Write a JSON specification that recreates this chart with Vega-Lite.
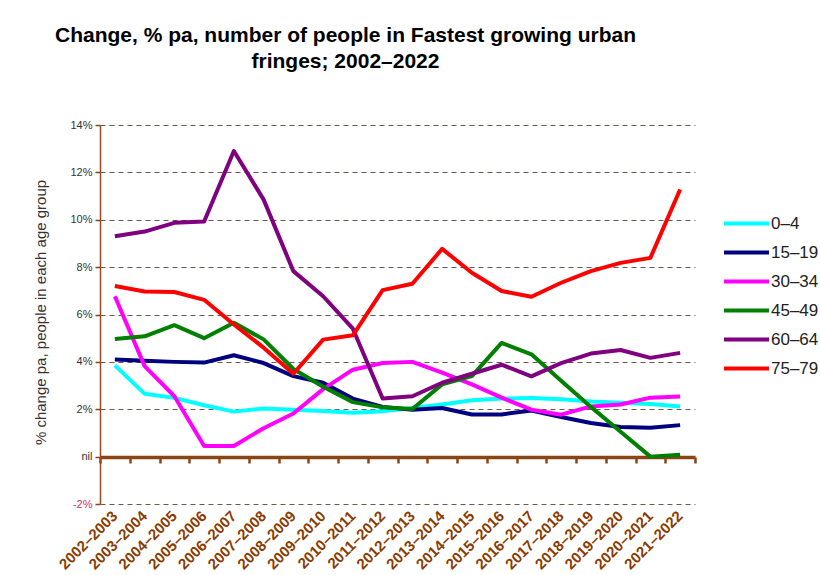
{
  "$schema": "https://vega.github.io/schema/vega-lite/v6.json",
  "width": 595,
  "height": 379,
  "autosize": {"type": "none"},
  "padding": {"left": 100, "top": 125, "right": 125, "bottom": 71},
  "background": "white",
  "config": {"view": {"stroke": null}, "font": "Liberation Sans"},
  "title": {
    "text": ["Change, % pa, number of people in Fastest growing urban", "fringes;  2002–2022"],
    "fontSize": 21, "fontWeight": "bold", "color": "#000000", "font": "Liberation Sans",
    "anchor": "middle", "dx": -52, "offset": 30, "baseline": "alphabetic", "lineHeight": 26
  },
  "data": {"values": [
    {"period":"2002–2003","group":"0–4","value":3.85},{"period":"2003–2004","group":"0–4","value":2.65},{"period":"2004–2005","group":"0–4","value":2.48},{"period":"2005–2006","group":"0–4","value":2.17},{"period":"2006–2007","group":"0–4","value":1.9},{"period":"2007–2008","group":"0–4","value":2.03},{"period":"2008–2009","group":"0–4","value":1.98},{"period":"2009–2010","group":"0–4","value":1.93},{"period":"2010–2011","group":"0–4","value":1.85},{"period":"2011–2012","group":"0–4","value":1.92},{"period":"2012–2013","group":"0–4","value":2.05},{"period":"2013–2014","group":"0–4","value":2.2},{"period":"2014–2015","group":"0–4","value":2.38},{"period":"2015–2016","group":"0–4","value":2.45},{"period":"2016–2017","group":"0–4","value":2.48},{"period":"2017–2018","group":"0–4","value":2.42},{"period":"2018–2019","group":"0–4","value":2.33},{"period":"2019–2020","group":"0–4","value":2.27},{"period":"2020–2021","group":"0–4","value":2.22},{"period":"2021–2022","group":"0–4","value":2.12},
    {"period":"2002–2003","group":"15–19","value":4.1},{"period":"2003–2004","group":"15–19","value":4.05},{"period":"2004–2005","group":"15–19","value":4.0},{"period":"2005–2006","group":"15–19","value":3.97},{"period":"2006–2007","group":"15–19","value":4.28},{"period":"2007–2008","group":"15–19","value":3.95},{"period":"2008–2009","group":"15–19","value":3.4},{"period":"2009–2010","group":"15–19","value":3.12},{"period":"2010–2011","group":"15–19","value":2.45},{"period":"2011–2012","group":"15–19","value":2.1},{"period":"2012–2013","group":"15–19","value":1.98},{"period":"2013–2014","group":"15–19","value":2.05},{"period":"2014–2015","group":"15–19","value":1.78},{"period":"2015–2016","group":"15–19","value":1.78},{"period":"2016–2017","group":"15–19","value":1.95},{"period":"2017–2018","group":"15–19","value":1.67},{"period":"2018–2019","group":"15–19","value":1.42},{"period":"2019–2020","group":"15–19","value":1.25},{"period":"2020–2021","group":"15–19","value":1.22},{"period":"2021–2022","group":"15–19","value":1.33},
    {"period":"2002–2003","group":"30–34","value":6.77},{"period":"2003–2004","group":"30–34","value":3.82},{"period":"2004–2005","group":"30–34","value":2.55},{"period":"2005–2006","group":"30–34","value":0.45},{"period":"2006–2007","group":"30–34","value":0.45},{"period":"2007–2008","group":"30–34","value":1.2},{"period":"2008–2009","group":"30–34","value":1.82},{"period":"2009–2010","group":"30–34","value":2.85},{"period":"2010–2011","group":"30–34","value":3.67},{"period":"2011–2012","group":"30–34","value":3.95},{"period":"2012–2013","group":"30–34","value":4.0},{"period":"2013–2014","group":"30–34","value":3.55},{"period":"2014–2015","group":"30–34","value":3.05},{"period":"2015–2016","group":"30–34","value":2.49},{"period":"2016–2017","group":"30–34","value":1.98},{"period":"2017–2018","group":"30–34","value":1.77},{"period":"2018–2019","group":"30–34","value":2.12},{"period":"2019–2020","group":"30–34","value":2.2},{"period":"2020–2021","group":"30–34","value":2.49},{"period":"2021–2022","group":"30–34","value":2.54},
    {"period":"2002–2003","group":"45–49","value":4.97},{"period":"2003–2004","group":"45–49","value":5.08},{"period":"2004–2005","group":"45–49","value":5.55},{"period":"2005–2006","group":"45–49","value":5.0},{"period":"2006–2007","group":"45–49","value":5.65},{"period":"2007–2008","group":"45–49","value":4.95},{"period":"2008–2009","group":"45–49","value":3.7},{"period":"2009–2010","group":"45–49","value":2.95},{"period":"2010–2011","group":"45–49","value":2.3},{"period":"2011–2012","group":"45–49","value":2.08},{"period":"2012–2013","group":"45–49","value":2.01},{"period":"2013–2014","group":"45–49","value":3.05},{"period":"2014–2015","group":"45–49","value":3.4},{"period":"2015–2016","group":"45–49","value":4.8},{"period":"2016–2017","group":"45–49","value":4.32},{"period":"2017–2018","group":"45–49","value":3.2},{"period":"2018–2019","group":"45–49","value":2.1},{"period":"2019–2020","group":"45–49","value":1.05},{"period":"2020–2021","group":"45–49","value":0.0},{"period":"2021–2022","group":"45–49","value":0.08},
    {"period":"2002–2003","group":"60–64","value":9.3},{"period":"2003–2004","group":"60–64","value":9.5},{"period":"2004–2005","group":"60–64","value":9.87},{"period":"2005–2006","group":"60–64","value":9.93},{"period":"2006–2007","group":"60–64","value":12.9},{"period":"2007–2008","group":"60–64","value":10.85},{"period":"2008–2009","group":"60–64","value":7.83},{"period":"2009–2010","group":"60–64","value":6.77},{"period":"2010–2011","group":"60–64","value":5.4},{"period":"2011–2012","group":"60–64","value":2.45},{"period":"2012–2013","group":"60–64","value":2.55},{"period":"2013–2014","group":"60–64","value":3.12},{"period":"2014–2015","group":"60–64","value":3.5},{"period":"2015–2016","group":"60–64","value":3.88},{"period":"2016–2017","group":"60–64","value":3.39},{"period":"2017–2018","group":"60–64","value":3.95},{"period":"2018–2019","group":"60–64","value":4.35},{"period":"2019–2020","group":"60–64","value":4.5},{"period":"2020–2021","group":"60–64","value":4.17},{"period":"2021–2022","group":"60–64","value":4.38},
    {"period":"2002–2003","group":"75–79","value":7.2},{"period":"2003–2004","group":"75–79","value":6.97},{"period":"2004–2005","group":"75–79","value":6.95},{"period":"2005–2006","group":"75–79","value":6.62},{"period":"2006–2007","group":"75–79","value":5.58},{"period":"2007–2008","group":"75–79","value":4.6},{"period":"2008–2009","group":"75–79","value":3.5},{"period":"2009–2010","group":"75–79","value":4.94},{"period":"2010–2011","group":"75–79","value":5.12},{"period":"2011–2012","group":"75–79","value":7.03},{"period":"2012–2013","group":"75–79","value":7.3},{"period":"2013–2014","group":"75–79","value":8.77},{"period":"2014–2015","group":"75–79","value":7.76},{"period":"2015–2016","group":"75–79","value":6.99},{"period":"2016–2017","group":"75–79","value":6.75},{"period":"2017–2018","group":"75–79","value":7.34},{"period":"2018–2019","group":"75–79","value":7.83},{"period":"2019–2020","group":"75–79","value":8.18},{"period":"2020–2021","group":"75–79","value":8.39},{"period":"2021–2022","group":"75–79","value":11.28}
  ]},
  "layer": [
    {
      "mark": {"type": "rule", "opacity": 0},
      "encoding": {
        "x": {"field": "period", "type": "ordinal", "sort": null,
          "scale": {"type": "band", "paddingInner": 0, "paddingOuter": 0},
          "axis": {"orient": "top", "offset": -332, "domain": true, "domainColor": "#8B4513", "domainWidth": 3.5,
            "ticks": true, "tickBand": "extent", "tickSize": -6, "tickColor": "#8B4513", "tickWidth": 2.5,
            "labels": false, "title": null, "grid": false}
        }
      }
    },
    {
      "mark": {"type": "line", "strokeWidth": 4, "strokeJoin": "round"},
      "encoding": {
        "x": {"field": "period", "type": "ordinal", "sort": null, "bandPosition": 0.5,
          "scale": {"type": "band", "paddingInner": 0, "paddingOuter": 0},
          "axis": {"orient": "bottom", "domain": false, "ticks": false, "grid": false, "title": null,
            "labelAngle": -45, "labelAlign": "right", "labelBaseline": "middle", "labelPadding": 9,
            "labelFontSize": 15, "labelFontWeight": "bold", "labelColor": "#8a3c00", "labelFont": "Liberation Sans"}
        },
        "y": {"field": "value", "type": "quantitative",
          "scale": {"domain": [-2, 14], "nice": false, "zero": false},
          "axis": {"values": [-2, 0, 2, 4, 6, 8, 10, 12, 14],
            "labelExpr": "datum.value == 0 ? 'nil' : datum.value + '%'",
            "labelFontSize": 11, "labelPadding": 3,
            "labelColor": {"condition": {"test": "datum.value < 0", "value": "#cc3366"}, "value": "#333333"},
            "tickColor": "#8B4513", "tickSize": 5, "tickWidth": 1.5,
            "domainColor": "#9c4a1a", "domainWidth": 1.5,
            "grid": true, "gridColor": "#6b5a4a", "gridDash": [5, 4], "gridWidth": 1,
            "gridOpacity": {"condition": {"test": "datum.value == 0", "value": 0}, "value": 1},
            "title": "% change pa, people in each age group", "titleFontSize": 15, "titleFontWeight": "normal",
            "titleColor": "#333333", "titleX": -60, "titleY": 187, "titleAngle": -90,
            "titleAlign": "center", "titleBaseline": "middle"}
        },
        "color": {"field": "group", "type": "nominal",
          "scale": {"domain": ["0–4", "15–19", "30–34", "45–49", "60–64", "75–79"],
            "range": ["#00FFFF", "#000080", "#FF00FF", "#008000", "#800080", "#FF0000"]},
          "legend": {"orient": "none", "legendX": 622, "legendY": 84, "title": null,
            "symbolType": "stroke", "symbolSize": 2025, "symbolStrokeWidth": 4,
            "labelFontSize": 17, "labelColor": "#222222", "labelOffset": 0, "rowPadding": 0, "clipHeight": 29,
            "labelFont": "Liberation Sans"}
        }
      }
    }
  ],
  "resolve": {"axis": {"x": "independent"}}
}
